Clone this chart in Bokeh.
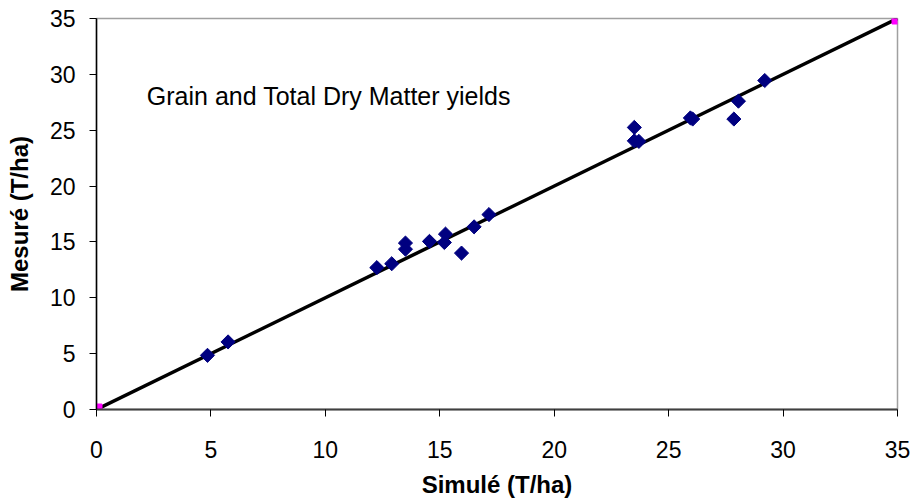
import numpy as np
from bokeh.plotting import figure
from bokeh.models import Range1d, FixedTicker
from bokeh.core.properties import value
from bokeh.embed import file_html
from bokeh.resources import INLINE

# Data
simule = [4.85, 5.75, 12.25, 12.9, 13.5, 13.5, 14.55, 15.2, 15.25, 15.95, 16.5, 17.15,
          23.5, 23.5, 23.7, 25.95, 26.05, 27.85, 28.05, 29.2]
mesure = [4.85, 6.05, 12.7, 13.05, 14.9, 14.35, 15.05, 14.95, 15.7, 14.0, 16.35, 17.45,
          25.25, 24.05, 24.0, 26.1, 26.0, 26.0, 27.6, 29.45]
line_x = [0, 35]
line_y = [0, 35]
ticks = [0, 5, 10, 15, 20, 25, 30, 35]
note = "Grain and Total Dry Matter yields"

FONT = "Liberation Sans"

p = figure(width=917, height=504, output_backend="svg", toolbar_location=None,
           x_range=Range1d(0, 35), y_range=Range1d(0, 35),
           min_border_left=96, min_border_right=20, min_border_top=18, min_border_bottom=95)

p.grid.visible = False
p.outline_line_color = "#a0a0a0"
p.outline_line_width = 1.5
p.background_fill_color = "white"
p.border_fill_color = "white"

p.line(line_x, line_y, line_color="black", line_width=3.5)
p.scatter(simule, mesure, marker="square", size=10, angle=np.pi / 4,
          fill_color="#000080", line_color="#000080")
p.scatter(line_x, line_y, marker="square", size=11, fill_color="#ff00ff", line_color="#ff00ff")

p.text(x=[2.2], y=[28.1], text=[note], text_font=value(FONT), text_font_size="25px",
       text_baseline="middle", text_align="left", text_color="black")

for ax in (p.xaxis[0], p.yaxis[0]):
    ax.ticker = FixedTicker(ticks=ticks)
    ax.minor_tick_line_color = None
    ax.major_tick_in = 0
    ax.major_tick_out = 7
    ax.major_label_text_font = FONT
    ax.major_label_text_font_size = "23px"
    ax.major_label_text_color = "black"
    ax.axis_label_text_font = FONT
    ax.axis_label_text_font_size = "24px"
    ax.axis_label_text_font_style = "bold"
    ax.axis_label_text_color = "black"

p.xaxis.axis_label = "Simulé (T/ha)"
p.yaxis.axis_label = "Mesuré (T/ha)"
p.xaxis.axis_line_color = "#404040"
p.xaxis.axis_line_width = 2
p.xaxis.major_tick_line_color = "black"
p.xaxis.major_label_standoff = 24
p.xaxis.axis_label_standoff = 10
p.yaxis.axis_line_color = "black"
p.yaxis.axis_line_width = 1.5
p.yaxis.major_label_standoff = 14
p.yaxis.axis_label_standoff = 14

open("out.html", "w").write(file_html(p, INLINE))
